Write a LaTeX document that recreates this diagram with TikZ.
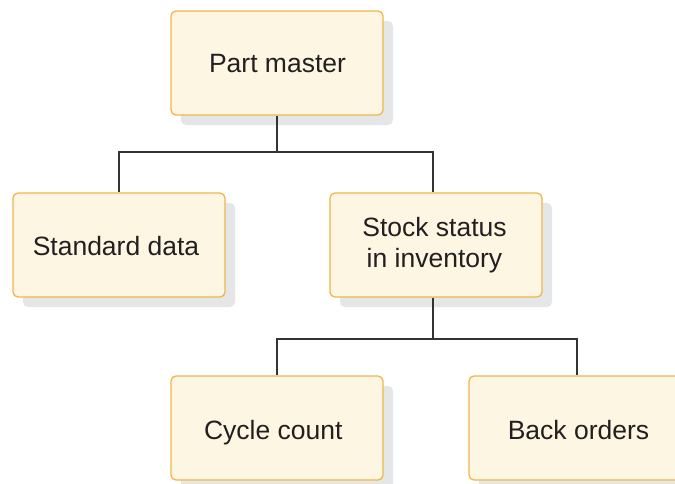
\documentclass[tikz,border=0pt]{standalone}
\usepackage{fontspec}
\setmainfont{Liberation Sans}
\definecolor{boxfill}{HTML}{FDF6E3}
\definecolor{boxline}{HTML}{F0B54A}
\definecolor{shade}{HTML}{E5E6E7}
\definecolor{ink}{HTML}{231F20}
\definecolor{wire}{HTML}{333333}
\newcommand{\nudge}[3]{\raisebox{-#2}[\height][\depth]{\hspace*{#1}#3\hspace*{-#1}}}
\begin{document}
\begin{tikzpicture}[x=1pt,y=-1pt,
  entity/.style={draw=boxline, line width=1.3pt, fill=boxfill, rounded corners=5pt,
    minimum width=212pt, minimum height=104pt, inner sep=0pt, align=center,
    text=ink, font=\fontsize{26.5}{31}\selectfont,
    preaction={draw=none, fill=shade, transform canvas={shift={(10pt,-10pt)}}}},
  oneline/.style={entity, text height=25.4pt, text depth=6pt},
  link/.style={draw=wire, line width=1.2pt}]
\useasboundingbox (0,0) rectangle (675,483);
\node[oneline] (pm) at (277,63) {\nudge{0.5pt}{0pt}{Part master}};
\node[oneline] (sd) at (119,245) {\nudge{-3pt}{0.3pt}{Standard data}};
\node[entity] (ss) at (436,245) {\nudge{-1.5pt}{0.4pt}{Stock status}\\\nudge{-1.5pt}{0.4pt}{in inventory}};
\node[oneline] (cc) at (277,428) {\nudge{-3.7pt}{1.6pt}{Cycle count}};
\node[oneline] (bo) at (575,428) {\nudge{3.5pt}{1.3pt}{Back orders}};
\coordinate (j1) at (277,152);
\coordinate (j2) at (433,339);
\draw[link] (pm.south) -- (pm.south |- j1);
\draw[link] (sd.north) -- (sd.north |- j1) -- ([xshift=-3pt]ss.north |- j1) -- ([xshift=-3pt]ss.north);
\draw[link] ([xshift=-3pt]ss.south) -- (j2);
\draw[link] (cc.north) -- (cc.north |- j2) -- ([xshift=2pt]bo.north |- j2) -- ([xshift=2pt]bo.north);
\end{tikzpicture}
\end{document}
